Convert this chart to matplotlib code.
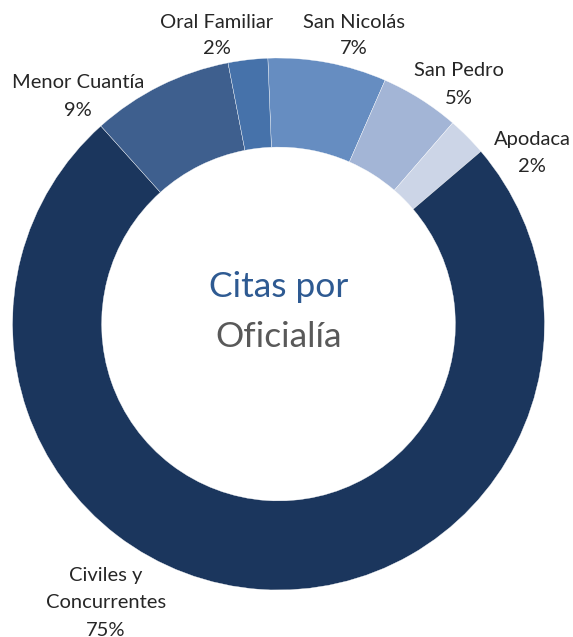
import matplotlib.pyplot as plt

oficialias = ['San Nicolás', 'San Pedro', 'Apodaca', 'Civiles y\nConcurrentes',
              'Menor Cuantía', 'Oral Familiar']
valores = [7.2, 4.8, 2.4, 74.6, 8.6, 2.4]
colores = ['#668DC1', '#A3B5D6', '#CCD5E7', '#1B365D', '#3E5F8E', '#4672AA']

# label anchors in pixels (x centre, y of first line from top)
pos_labels = [(354, 22), (459, 71), (532, 140), (106, 576), (78, 83), (217, 22)]

W, H = 573, 637
fig = plt.figure(figsize=(W / 100, H / 100), dpi=100)
ax = fig.add_axes([0, 0, 1, 1])

R = 266
cx, cy = 278.5, H - 324
ax.pie(valores, colors=colores, radius=R, center=(cx, cy), startangle=92.3,
       counterclock=False,
       wedgeprops=dict(width=R * 0.335, edgecolor='white', linewidth=0.25))
ax.set_xlim(0, W)
ax.set_ylim(0, H)
ax.set_aspect('equal')
ax.axis('off')

fuente = 'Lato'
paso = 27
for nombre, v, (x, y) in zip(oficialias, valores, pos_labels):
    lineas = nombre.split('\n') + [f'{v:.0f}%']
    for i, t in enumerate(lineas):
        ax.text(x, H - (y + i * paso), t, ha='center', va='center',
                fontsize=14.5, family=fuente, color='#262626')

ax.text(cx, H - 287, 'Citas por', ha='center', va='center', fontsize=25.5,
        family=fuente, color='#2E5A92')
ax.text(cx, H - 337, 'Oficialía', ha='center', va='center', fontsize=25.5,
        family=fuente, color='#595959')

fig.savefig('out.png', dpi=100)
